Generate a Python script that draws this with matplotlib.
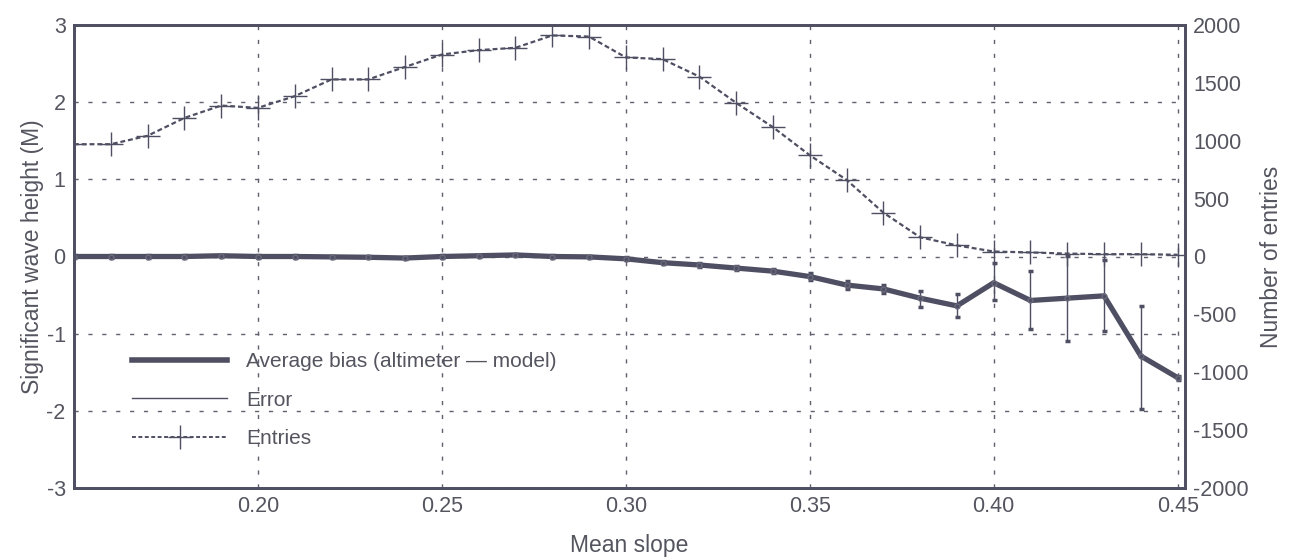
import numpy as np
import matplotlib.pyplot as plt
from matplotlib.lines import Line2D

plt.rcParams['font.family'] = ['Liberation Sans', 'DejaVu Sans']
plt.rcParams['axes.unicode_minus'] = False

ink = '#4f4f63'
txt = '#555560'

# mean slope bins
slope = np.round(np.arange(0.15, 0.4501, 0.01), 2)

# average bias altimeter - model (m)
bias = [0.0, 0.0, 0.0, 0.0, 0.01, 0.0, 0.0, -0.005, -0.01, -0.02,
        0.0, 0.01, 0.02, 0.0, -0.005, -0.03, -0.08, -0.11, -0.15, -0.19,
        -0.26, -0.37, -0.42, -0.54, -0.64, -0.34, -0.57, -0.54, -0.51, -1.29,
        -1.57]

# error bounds (m)
err_lo = [-0.015, -0.015, -0.015, -0.015, -0.005, -0.015, -0.015, -0.02, -0.025, -0.035,
          -0.015, -0.005, 0.005, -0.015, -0.02, -0.05, -0.10, -0.13, -0.18, -0.22,
          -0.30, -0.42, -0.47, -0.65, -0.78, -0.57, -0.94, -1.09, -0.96, -1.98,
          -1.60]
err_hi = [0.015, 0.015, 0.015, 0.015, 0.025, 0.015, 0.015, 0.01, 0.005, -0.005,
          0.015, 0.025, 0.035, 0.015, 0.01, -0.01, -0.06, -0.09, -0.12, -0.16,
          -0.22, -0.32, -0.37, -0.445, -0.49, -0.08, -0.19, 0.01, -0.05, -0.64,
          -1.55]

# number of entries per bin
entries = [970, 970, 1043, 1197, 1304, 1284, 1385, 1530, 1530, 1638,
           1745, 1783, 1803, 1910, 1900, 1720, 1705, 1554, 1327, 1117,
           875, 662, 379, 166, 96, 43, 35, 25, 20, 20,
           15]

xticks = [0.20, 0.25, 0.30, 0.35, 0.40, 0.45]

fig = plt.figure(figsize=(12.93, 5.57), dpi=100)
ax = fig.add_axes([74 / 1293, 1 - 488 / 557, 1111 / 1293, 463 / 557])
ax2 = ax.twinx()

bias = np.array(bias)
lo = bias - np.array(err_lo)
hi = np.array(err_hi) - bias
ax.errorbar(slope, bias, yerr=[lo, hi], fmt='none', ecolor=ink, elinewidth=1.0,
            capsize=1.8, capthick=2.5, zorder=3)
ax.plot(slope, bias, color=ink, lw=3.8, marker='o', ms=3.5, mfc=ink, mec='#6a6a7c',
        zorder=4, solid_joinstyle='round')

ax2.plot(slope, entries, color=ink, lw=1.6, ls=(0, (2.2, 1.3)), marker='+', ms=17,
         mew=1.0, zorder=3)

ax.set_xlim(0.15, 0.452)
ax.set_ylim(-3, 3)
ax2.set_ylim(-2000, 2000)
ax.set_xticks(xticks)
ax.set_xticklabels(['%.2f' % v for v in xticks])
ax.set_yticks(range(-3, 4))
ax2.set_yticks(range(-2000, 2001, 500))

ax.grid(True, color='#606070', lw=1.0, ls=(0, (3, 7)))
for a in (ax, ax2):
    a.tick_params(direction='in', length=0, labelsize=15.5, colors=txt, pad=6)
    for s in a.spines.values():
        s.set_color(ink)
        s.set_linewidth(2.0)

ax.set_xlabel('Mean slope', fontsize=16.5, color=txt, labelpad=12)
ax.set_ylabel('Significant wave height (M)', fontsize=16.5, color=txt, labelpad=2)
ax2.set_ylabel('Number of entries', fontsize=16.5, color=txt, labelpad=8)

handles = [
    Line2D([], [], color=ink, lw=4.0),
    Line2D([], [], color=ink, lw=1.0),
    Line2D([], [], color=ink, lw=1.4, ls=(0, (2, 1.3)), marker='+', ms=17, mew=1.0),
]
labels = ['Average bias (altimeter \u2014 model)', 'Error', 'Entries']
ax2.legend(handles, labels, loc='lower left', bbox_to_anchor=(0.035, 0.045),
           frameon=False, fontsize=15, handlelength=4.6, handletextpad=0.9,
           labelspacing=0.95, numpoints=1, labelcolor=txt)

fig.savefig('out.png', dpi=100)
